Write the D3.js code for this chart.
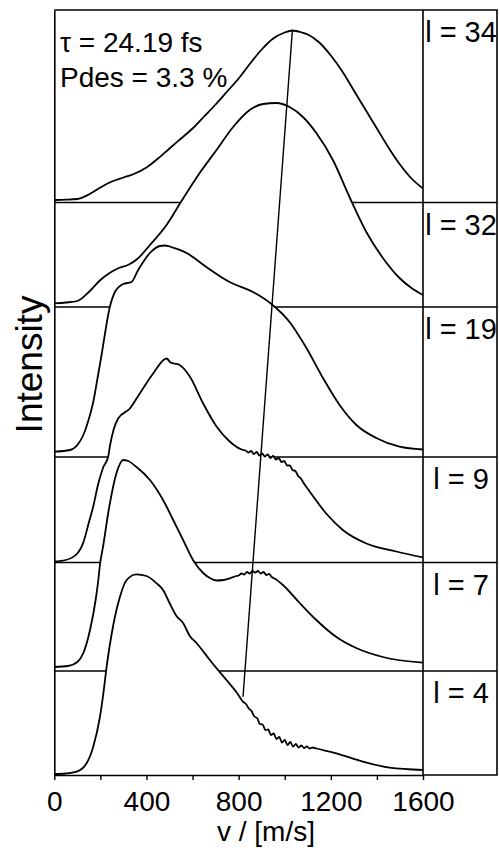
<!DOCTYPE html>
<html>
<head>
  <meta charset="utf-8"><script src="https://d3js.org/d3.v7.min.js"></script>
  <style>
    body { margin: 0; background: white; }
    text { font-family: "Liberation Sans", Arial, sans-serif; fill: black; }
  </style>
</head>
<body>
  <svg id="mychart" width="500" height="848" style="background: white"></svg>
<script>
  // velocity (m/s) vs intensity above each trace's own baseline (arb. units)
  const l34 = [[0,2.5],[50,2.8],[100,3.5],[150,8],[200,15],[250,21],[300,25],[340,28],[400,35],[450,44],[500,54],[550,64],[600,74],[650,86],[700,98],[750,111],[800,124],[850,139],[900,153],[950,164],[1000,170],[1033,172],[1075,170],[1100,168],[1150,160],[1200,147],[1250,131],[1300,112],[1350,93],[1400,74],[1450,55],[1500,38],[1550,24],[1600,14]]
  const l32 = [[0,3.7],[50,4.5],[100,6],[150,15],[200,27],[240,34],[280,39],[320,42],[360,48],[415,62],[487,82],[552,106],[631,134],[704,157],[776,180],[848,197],[906,203],[964,204],[1021,200],[1079,190],[1137,174],[1209,147],[1281,110],[1354,75],[1426,49],[1498,29],[1550,19],[1600,12]]
  const l19 = [[0,5.3],[68,7],[100,12],[126,22],[150,38],[169,55],[190,82],[205,102],[241,150],[263,165],[299,173],[335,175],[364,187],[415,204],[458,211],[480,211.5],[500,210.5],[520,209],[574,204],[660,190],[761,175],[862,165],[942,153],[1021,135],[1094,109],[1166,79],[1238,52],[1311,32],[1397,19],[1498,10.3],[1600,7.5]]
  const l9 = [[0,1],[50,2.5],[100,9],[126,20],[150,40],[169,56],[190,78],[212,95],[234,106],[241,116],[277,144],[328,154],[371,169],[429,189],[487,204],[505,200],[520,199],[540,198],[588,186],[646,159],[704,136],[761,121],[819,112.5],
    [830,112],[842,110],[854,111.5],[866,108.5],[878,110.5],[890,107],[902,109],[914,106],[926,108],[938,104.5],[950,106.5],[962,103],[974,104.5],[986,100.5],[998,101.5],[1010,97],[1022,97],[1034,92.5],[1046,91.5],[1058,86.5],[1070,84],[1082,79.5],
    [1108,71],[1180,49],[1252,32.5],[1354,19],[1484,11],[1600,5]]
  const l7 = [[0,4],[60,5],[100,9],[126,18],[155,41],[180,72],[191,91],[198,106],[212,125],[234,158],[270,198],[299,211],[320,210],[357,204],[415,191],[472,171],[516,151],[559,131],[602,111],[646,98],[675,93],[704,90.5],[735,91],[761,92.7],[790,95],
    [800,95.5],[812,97.5],[824,96.5],[836,99],[848,97.5],[860,100],[872,98.5],[884,100],[896,97.5],[908,99],[920,96],[932,97],[944,94],[960,92],
    [992,86],[1065,68],[1137,51],[1224,34],[1310,23],[1426,14],[1600,8.3]]
  const l4 = [[0,1],[50,1.5],[97,3.3],[140,11.7],[169,28.3],[198,58],[212,80],[227,108],[256,150],[285,178.3],[314,195],[357,200.7],[400,199],[444,191.7],[472,185],[500,172],[530,159],[559,152],[588,139],[617,132],[645,124],[675,115],[747,95],[790,83],
    [820,73],[832,71],[844,66.5],[856,64],[868,58.5],[880,57],[892,51],[904,50.5],[916,45],[928,45.5],[940,40],[952,41.5],[964,36],[976,38],[988,32.5],[1000,35],[1012,30],[1024,33],[1036,28.5],[1048,31],[1060,27.5],[1072,29.5],[1084,27],[1096,28.5],[1108,26.5],[1120,27.5],
    [1137,26.5],[1224,21.7],[1339,13.3],[1455,7.3],[1600,5]]

  const traces = [l34, l32, l19, l9, l7, l4]
  const labels = ["l = 34", "l = 32", "l = 19", "l = 9", "l = 7", "l = 4"]
  const offsets = [572.5, 468, 318, 212.5, 104, 0]
  // line through the peak positions (absolute units)
  const peakLine = [[1033, 744.3], [819, 78.3]]
  const xTicks = [0, 200, 400, 600, 800, 1000, 1200, 1400, 1600]

  const width = 500, height = 848
  const margin = ({top: 10, right: 77, bottom: 73, left: 54})
  const yMax = 765

  const x = d3.scaleLinear()
    .domain([0, 1600])
    .range([margin.left + 0.3, width - margin.right])

  const y = d3.scaleLinear()
    .domain([0, yMax])
    .range([height - margin.bottom, margin.top])

  const svg = d3.select("#mychart")
  const right = width - 3

  traces.forEach((data, k) => {
    const off = offsets[k]
    const area = d3.area()
      .curve(d3.curveMonotoneX)
      .x(d => x(d[0]))
      .y0(y(off))
      .y1(d => y(off + d[1]))
    const line = d3.line()
      .curve(d3.curveMonotoneX)
      .x(d => x(d[0]))
      .y(d => y(off + d[1]))

    svg.append("path").datum(data)
      .attr("fill", "white")
      .attr("d", area)
    svg.append("path").datum(data)
      .attr("fill", "none")
      .attr("stroke", "black")
      .attr("stroke-width", 1.8)
      .attr("stroke-linejoin", "round")
      .attr("d", line)

    if (off > 0) {
      svg.append("line")
        .attr("x1", x(0)).attr("x2", right)
        .attr("y1", y(off)).attr("y2", y(off))
        .attr("stroke", "black")
        .attr("stroke-width", 1.4)
    }

    // label in the box right of the plot, just under the line above
    const top = k === 0 ? yMax : offsets[k - 1]
    svg.append("text")
      .attr("x", (x(1600) + right) / 2 + 1)
      .attr("y", y(top) + 32)
      .attr("text-anchor", "middle")
      .attr("font-size", 29)
      .text(labels[k])
  })

  svg.append("path")
    .datum(peakLine)
    .attr("fill", "none")
    .attr("stroke", "black")
    .attr("stroke-width", 1.4)
    .attr("d", d3.line().x(d => x(d[0])).y(d => y(d[1])))

  // frame
  svg.append("g")
    .attr("transform", `translate(0,${y(0)})`)
    .call(d3.axisBottom(x).tickValues(xTicks).tickSize(5).tickPadding(11).tickSizeOuter(0)
      .tickFormat(d => d % 400 === 0 ? d : ""))
    .call(g => g.select(".domain").attr("stroke-width", 1.6))
    .call(g => g.selectAll(".tick line").attr("stroke-width", 1.4))
    .call(g => g.selectAll(".tick text").attr("font-size", 28).attr("font-family", "Liberation Sans, Arial, sans-serif"))

  svg.append("g")
    .attr("transform", `translate(${x(0)},0)`)
    .call(d3.axisLeft(y).tickValues([]).tickSizeOuter(0))
    .call(g => g.select(".domain").attr("stroke-width", 1.6))

  svg.append("path")
    .attr("fill", "none")
    .attr("stroke", "black")
    .attr("stroke-width", 1.6)
    .attr("d", `M${x(0)},${y(yMax)}H${right}V${y(0)}H${x(1600)}M${x(1600)},${y(yMax)}V${y(0)}`)

  // titles
  svg.append("text")
    .attr("transform", `translate(42,${(y(0) + y(yMax)) / 2 - 28}) rotate(-90)`)
    .attr("text-anchor", "middle")
    .attr("font-size", 37)
    .text("Intensity")

  svg.append("text")
    .attr("x", 266).attr("y", 841)
    .attr("text-anchor", "middle")
    .attr("font-size", 28)
    .text("v / [m/s]")

  svg.append("text")
    .attr("x", 60).attr("y", 52)
    .attr("font-size", 28)
    .text("τ = 24.19 fs")
  svg.append("text")
    .attr("x", 60).attr("y", 87)
    .attr("font-size", 28)
    .text("Pdes = 3.3 %")
</script>
</body>
</html>
